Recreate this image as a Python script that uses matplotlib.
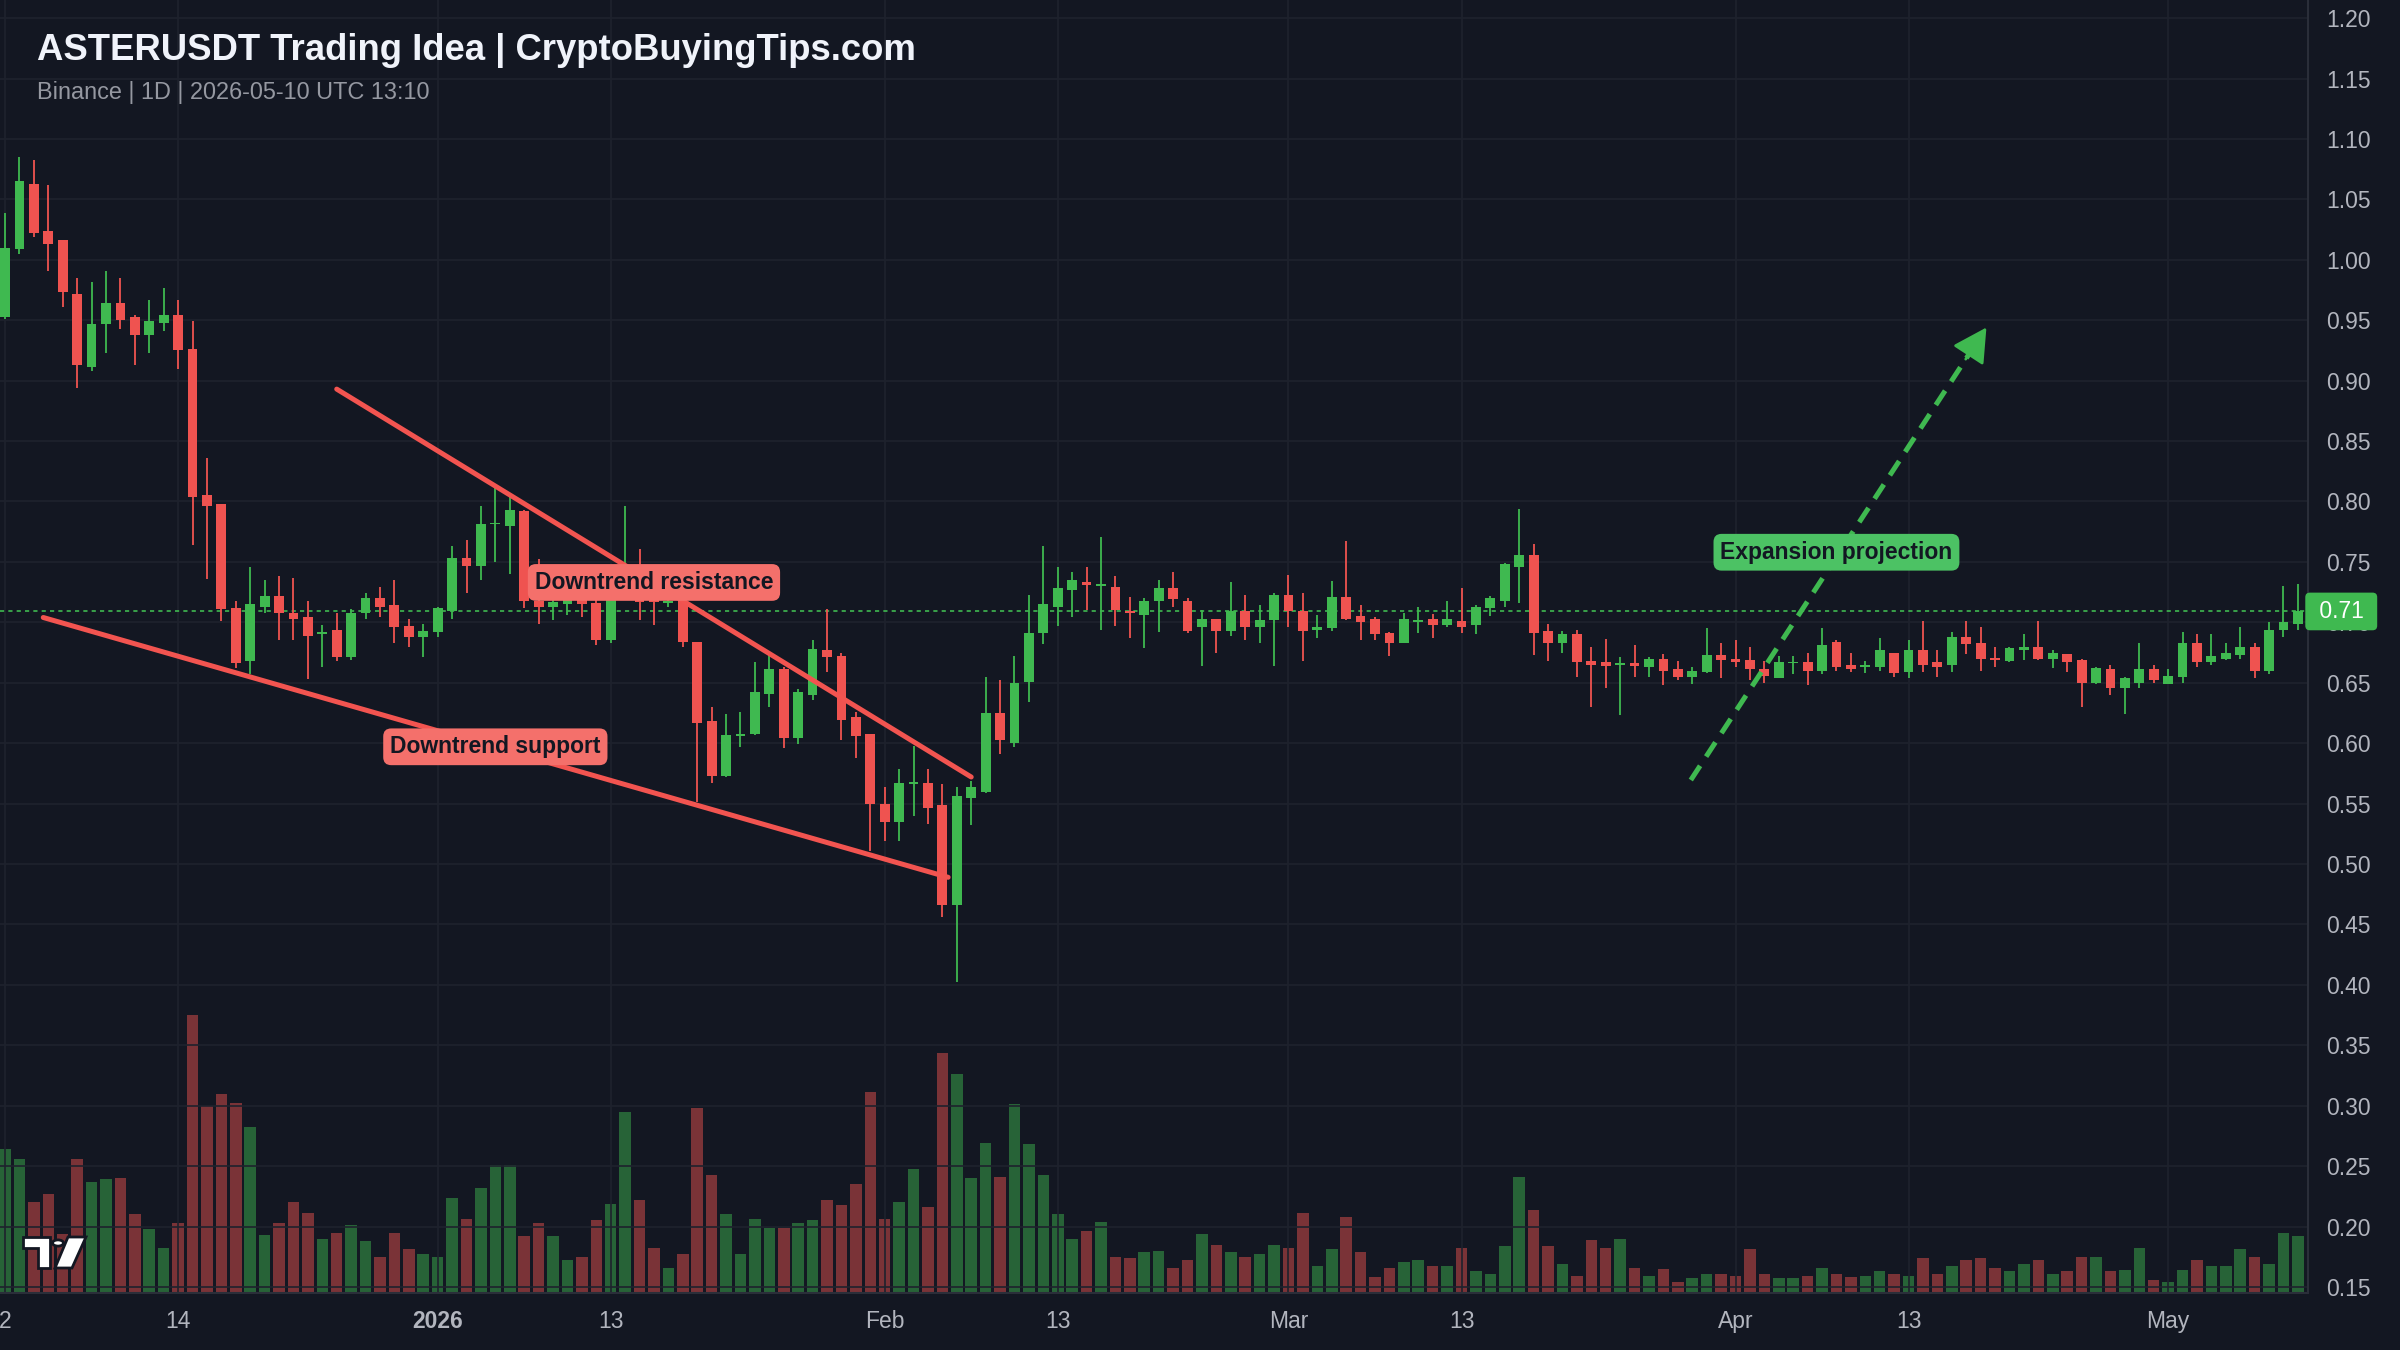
import matplotlib
matplotlib.use("Agg")
import matplotlib.pyplot as plt
import matplotlib.dates as mdates
import numpy as np
import pandas as pd
from matplotlib.patches import Polygon, Circle

# ---- data ----
dates = pd.date_range("2025-12-02", periods=160, freq="D")

opens = [0.953, 1.009, 1.063, 1.024, 1.016, 0.972, 0.911, 0.947, 0.964, 0.953,
         0.938, 0.948, 0.954, 0.926, 0.805, 0.798, 0.712, 0.668, 0.713, 0.722,
         0.708, 0.704, 0.690, 0.694, 0.671, 0.708, 0.720, 0.714, 0.697, 0.688,
         0.692, 0.709, 0.753, 0.747, 0.781, 0.780, 0.792, 0.718, 0.713, 0.715,
         0.719, 0.716, 0.685, 0.725, 0.735, 0.725, 0.716, 0.718, 0.684, 0.618,
         0.573, 0.606, 0.608, 0.641, 0.661, 0.604, 0.640, 0.677, 0.672, 0.622,
         0.608, 0.550, 0.535, 0.566, 0.567, 0.549, 0.466, 0.555, 0.560, 0.625,
         0.600, 0.651, 0.691, 0.713, 0.727, 0.733, 0.730, 0.729, 0.709, 0.706,
         0.718, 0.728, 0.718, 0.696, 0.703, 0.693, 0.709, 0.696, 0.702, 0.723,
         0.709, 0.694, 0.695, 0.721, 0.705, 0.703, 0.691, 0.683, 0.700, 0.703,
         0.698, 0.701, 0.698, 0.712, 0.718, 0.746, 0.756, 0.693, 0.683, 0.690,
         0.668, 0.667, 0.665, 0.666, 0.663, 0.670, 0.661, 0.655, 0.659, 0.673,
         0.670, 0.669, 0.661, 0.654, 0.666, 0.667, 0.660, 0.684, 0.665, 0.663,
         0.663, 0.675, 0.659, 0.677, 0.667, 0.665, 0.688, 0.683, 0.670, 0.668,
         0.677, 0.680, 0.670, 0.674, 0.669, 0.650, 0.661, 0.646, 0.650, 0.661,
         0.649, 0.655, 0.683, 0.667, 0.670, 0.673, 0.680, 0.660, 0.694, 0.699]
highs = [1.039, 1.085, 1.083, 1.062, 1.016, 0.985, 0.982, 0.991, 0.985, 0.954,
         0.967, 0.977, 0.967, 0.949, 0.836, 0.798, 0.718, 0.746, 0.735, 0.738,
         0.737, 0.718, 0.698, 0.708, 0.711, 0.724, 0.729, 0.735, 0.703, 0.699,
         0.713, 0.763, 0.768, 0.796, 0.811, 0.804, 0.793, 0.752, 0.720, 0.721,
         0.721, 0.720, 0.730, 0.796, 0.761, 0.728, 0.720, 0.722, 0.684, 0.630,
         0.624, 0.626, 0.667, 0.673, 0.663, 0.645, 0.685, 0.711, 0.675, 0.626,
         0.608, 0.564, 0.579, 0.598, 0.579, 0.566, 0.564, 0.569, 0.655, 0.652,
         0.672, 0.723, 0.763, 0.746, 0.742, 0.746, 0.771, 0.738, 0.721, 0.720,
         0.735, 0.742, 0.720, 0.710, 0.703, 0.733, 0.723, 0.714, 0.724, 0.739,
         0.724, 0.706, 0.734, 0.767, 0.714, 0.704, 0.692, 0.708, 0.713, 0.707,
         0.718, 0.728, 0.714, 0.722, 0.749, 0.794, 0.765, 0.699, 0.693, 0.694,
         0.680, 0.686, 0.671, 0.681, 0.671, 0.674, 0.668, 0.663, 0.695, 0.683,
         0.685, 0.680, 0.668, 0.672, 0.672, 0.675, 0.695, 0.685, 0.675, 0.668,
         0.687, 0.675, 0.685, 0.701, 0.677, 0.692, 0.701, 0.696, 0.680, 0.680,
         0.690, 0.701, 0.677, 0.674, 0.670, 0.663, 0.665, 0.655, 0.683, 0.665,
         0.661, 0.692, 0.690, 0.690, 0.683, 0.696, 0.683, 0.700, 0.730, 0.732]
lows = [0.951, 1.005, 1.019, 0.991, 0.961, 0.894, 0.908, 0.923, 0.943, 0.913,
        0.923, 0.941, 0.910, 0.764, 0.736, 0.701, 0.662, 0.657, 0.708, 0.685,
        0.685, 0.653, 0.663, 0.668, 0.669, 0.703, 0.704, 0.683, 0.680, 0.671,
        0.688, 0.703, 0.724, 0.735, 0.750, 0.740, 0.712, 0.699, 0.702, 0.706,
        0.704, 0.681, 0.683, 0.720, 0.702, 0.698, 0.713, 0.680, 0.551, 0.567,
        0.572, 0.597, 0.607, 0.630, 0.596, 0.599, 0.636, 0.659, 0.603, 0.588,
        0.511, 0.519, 0.519, 0.540, 0.533, 0.456, 0.402, 0.532, 0.559, 0.591,
        0.597, 0.634, 0.682, 0.697, 0.704, 0.710, 0.694, 0.697, 0.687, 0.679,
        0.692, 0.713, 0.691, 0.664, 0.675, 0.689, 0.685, 0.683, 0.664, 0.696,
        0.668, 0.687, 0.693, 0.702, 0.685, 0.685, 0.672, 0.683, 0.691, 0.687,
        0.696, 0.691, 0.690, 0.705, 0.713, 0.716, 0.673, 0.668, 0.675, 0.655,
        0.630, 0.646, 0.623, 0.655, 0.655, 0.648, 0.652, 0.649, 0.658, 0.654,
        0.663, 0.652, 0.650, 0.654, 0.657, 0.648, 0.657, 0.660, 0.659, 0.658,
        0.660, 0.655, 0.654, 0.659, 0.655, 0.659, 0.674, 0.660, 0.663, 0.667,
        0.669, 0.669, 0.662, 0.659, 0.630, 0.649, 0.640, 0.624, 0.646, 0.650,
        0.649, 0.650, 0.663, 0.665, 0.669, 0.670, 0.654, 0.657, 0.688, 0.694]
closes = [1.010, 1.065, 1.022, 1.013, 0.973, 0.913, 0.947, 0.964, 0.950, 0.938,
          0.949, 0.954, 0.925, 0.804, 0.796, 0.711, 0.666, 0.715, 0.722, 0.708,
          0.703, 0.689, 0.692, 0.671, 0.708, 0.720, 0.713, 0.696, 0.688, 0.693,
          0.712, 0.753, 0.747, 0.781, 0.782, 0.793, 0.718, 0.713, 0.717, 0.719,
          0.715, 0.685, 0.725, 0.735, 0.717, 0.717, 0.718, 0.684, 0.617, 0.573,
          0.607, 0.608, 0.642, 0.661, 0.604, 0.642, 0.678, 0.671, 0.619, 0.606,
          0.550, 0.535, 0.567, 0.567, 0.546, 0.466, 0.556, 0.564, 0.625, 0.603,
          0.650, 0.691, 0.715, 0.728, 0.735, 0.731, 0.731, 0.710, 0.708, 0.718,
          0.728, 0.719, 0.693, 0.703, 0.693, 0.709, 0.696, 0.702, 0.723, 0.709,
          0.693, 0.696, 0.721, 0.703, 0.700, 0.690, 0.683, 0.703, 0.702, 0.698,
          0.703, 0.696, 0.713, 0.720, 0.748, 0.756, 0.691, 0.683, 0.690, 0.667,
          0.665, 0.664, 0.666, 0.664, 0.670, 0.660, 0.655, 0.660, 0.673, 0.669,
          0.667, 0.661, 0.656, 0.667, 0.667, 0.660, 0.681, 0.663, 0.661, 0.665,
          0.677, 0.658, 0.677, 0.665, 0.663, 0.688, 0.682, 0.670, 0.669, 0.679,
          0.680, 0.670, 0.675, 0.667, 0.650, 0.662, 0.646, 0.654, 0.661, 0.652,
          0.656, 0.683, 0.667, 0.672, 0.675, 0.680, 0.660, 0.694, 0.700, 0.709]
# volume, arbitrary units (height of bar, 1 unit = 0.001 on the price scale)
volumes = [119, 111, 75, 82, 49, 111, 92, 94, 95, 65,
           53, 37, 58, 230, 155, 165, 157, 137, 48, 58,
           75, 66, 45, 50, 56, 43, 30, 50, 36, 32,
           30, 79, 61, 87, 106, 106, 47, 58, 47, 27,
           30, 60, 74, 150, 77, 37, 21, 32, 153, 98,
           65, 32, 61, 54, 54, 58, 60, 77, 73, 90,
           166, 61, 75, 103, 71, 199, 181, 95, 124, 96,
           156, 123, 98, 65, 45, 51, 59, 30, 29, 34,
           35, 21, 27, 49, 40, 34, 30, 32, 40, 37,
           66, 22, 36, 63, 34, 13, 21, 26, 27, 22,
           22, 37, 18, 16, 39, 96, 69, 39, 24, 14,
           44, 37, 45, 21, 14, 20, 9, 12, 16, 16,
           14, 36, 16, 12, 12, 14, 21, 16, 13, 14,
           18, 16, 14, 29, 16, 22, 27, 29, 21, 18,
           24, 27, 16, 18, 30, 30, 18, 19, 37, 11,
           9, 19, 27, 22, 22, 36, 30, 24, 50, 47]

tick_dates = ["2025-12-02", "2025-12-14", "2026-01-01", "2026-01-13", "2026-02-01",
              "2026-02-13", "2026-03-01", "2026-03-13", "2026-04-01", "2026-04-13",
              "2026-05-01"]
tick_labels = ["2", "14", "2026", "13", "Feb", "13", "Mar", "13", "Apr", "13", "May"]
price_ticks = np.round(np.arange(0.15, 1.2001, 0.05), 2)

# annotations: (days after first candle, price)
resistance_days, resistance_prices = [23.0, 67.0], [0.893, 0.572]
support_days, support_prices = [2.65, 65.4], [0.704, 0.489]
projection_days, projection_prices = [116.9, 137.4], [0.5695, 0.944]
labels = [("Downtrend resistance", 45.0, 0.733, "red"),
          ("Downtrend support", 34.0, 0.597, "red"),
          ("Expansion projection", 127.0, 0.758, "green")]
last_price = closes[-1]

# ---- style ----
BG = "#131722"
GRID = "#1e222d"
GREEN = "#3fb950"
RED = "#ef5350"
LINE_RED = "#f25450"
BOX = {"red": "#f4706b", "green": "#4cc264"}
TXT = "#b2b5be"
PRICE_MIN, PRICE_MAX = 0.145, 1.215

plt.rcParams["font.family"] = ["Liberation Sans", "DejaVu Sans"]

x = mdates.date2num(dates)
o, h, l, c = map(np.array, (opens, highs, lows, closes))
up = c >= o
cols = np.where(up, GREEN, RED)

fig = plt.figure(figsize=(24, 13.5), dpi=100, facecolor=BG)
rect = [0, 57 / 1350, 2308 / 2400, 1 - 57 / 1350]
vax = fig.add_axes(rect)
ax = fig.add_axes(rect, sharex=vax)

# volume pane (drawn underneath), also carries the grid
vax.set_facecolor(BG)
vax.bar(x, volumes, width=0.8, color=cols, alpha=0.47, linewidth=0)
vax.set_ylim(0, (PRICE_MAX - PRICE_MIN) * 1000)
vax.set_yticks((price_ticks - PRICE_MIN) * 1000)
vax.set_xticks(mdates.date2num(pd.to_datetime(tick_dates)))
vax.grid(True, color=GRID, lw=1.2)
vax.tick_params(left=False, bottom=False, labelleft=False, labelbottom=False)
for s in vax.spines.values():
    s.set_visible(False)

# candles
ax.patch.set_visible(False)
ax.vlines(x, l, h, colors=cols, lw=1.3, zorder=2)
ax.bar(x, np.maximum(np.abs(c - o), 0.0015), bottom=np.minimum(o, c),
       width=0.68, color=cols, linewidth=0, zorder=3)

ax.axhline(last_price, color=GREEN, lw=1.2, ls=(0, (2.5, 2.5)), zorder=1)

# trend lines
d0 = x[0]
ax.plot(d0 + np.array(resistance_days), resistance_prices, color=LINE_RED, lw=3.6,
        solid_capstyle="round", zorder=4)
ax.plot(d0 + np.array(support_days), support_prices, color=LINE_RED, lw=3.6,
        solid_capstyle="round", zorder=4)

# projection arrow
px = d0 + np.array(projection_days)
py = np.array(projection_prices)
f = 0.955
ax.plot([px[0], px[0] + f * (px[1] - px[0])], [py[0], py[0] + f * (py[1] - py[0])],
        color=GREEN, lw=3.6, ls=(0, (3.4, 2.2)), zorder=4)
ax.annotate("", xy=(px[1], py[1]),
            xytext=(px[0] + 0.93 * (px[1] - px[0]), py[0] + 0.93 * (py[1] - py[0])),
            arrowprops=dict(arrowstyle="-|>,head_length=0.7,head_width=0.38",
                            mutation_scale=30, color=GREEN, lw=2, shrinkA=0, shrinkB=0),
            zorder=4)

for txt, dd, pp, kind in labels:
    ax.text(d0 + dd, pp, txt, ha="center", va="center", fontsize=16.5,
            fontweight="bold", color=BG, zorder=6,
            bbox=dict(boxstyle="round,pad=0.3,rounding_size=0.35",
                      fc=BOX[kind], ec="none"))

# axes
ax.set_ylim(PRICE_MIN, PRICE_MAX)
ax.set_xlim(x[0] - 0.35, x[0] + 159.7)
ax.yaxis.tick_right()
ax.set_yticks(price_ticks)
ax.set_yticklabels([f"{v:.2f}" for v in price_ticks])
ax.set_xticks(mdates.date2num(pd.to_datetime(tick_dates)))
ax.set_xticklabels(tick_labels)
ax.get_xticklabels()[2].set_fontweight("bold")
ax.tick_params(axis="y", length=0, pad=13, labelsize=16.5, labelcolor=TXT)
ax.tick_params(axis="x", length=0, pad=12.5, labelsize=16.5, labelcolor=TXT)
for side in ("left", "top"):
    ax.spines[side].set_visible(False)
for side in ("right", "bottom"):
    ax.spines[side].set_color("#2a2e39")
    ax.spines[side].set_linewidth(1.5)

ax.text(1.002, last_price, f" {last_price:.2f} ", transform=ax.get_yaxis_transform(),
        ha="left", va="center", fontsize=16.5, color="white", zorder=10, clip_on=False,
        bbox=dict(boxstyle="round,pad=0.32,rounding_size=0.2", fc=GREEN, ec="none"))

# title
fig.text(37 / 2400, 1 - 51 / 1350, "ASTERUSDT Trading Idea | CryptoBuyingTips.com",
         fontsize=26.3, fontweight="bold", color="#f0f3fa", va="center", ha="left")
fig.text(37 / 2400, 1 - 92 / 1350, "Binance | 1D | 2026-05-10 UTC 13:10",
         fontsize=16.9, color="#9598a1", va="center", ha="left")


# small logo, bottom left
def fp(xp, yp):
    return (xp / 2400, 1 - yp / 1350)


logo_kw = dict(transform=fig.transFigure, fc="white", ec=BG, lw=2, zorder=20)
fig.patches.append(Polygon([fp(23, 1237), fp(50, 1237), fp(50, 1268), fp(38, 1268),
                            fp(38, 1248), fp(23, 1248)], **logo_kw))
fig.patches.append(Polygon([fp(68, 1237), fp(86, 1237), fp(72, 1268), fp(55, 1268)],
                           **logo_kw))
fig.patches.append(Circle(fp(58, 1243), 5.5 / 2400, **logo_kw))

fig.savefig("out.png", dpi=100, facecolor=BG)
